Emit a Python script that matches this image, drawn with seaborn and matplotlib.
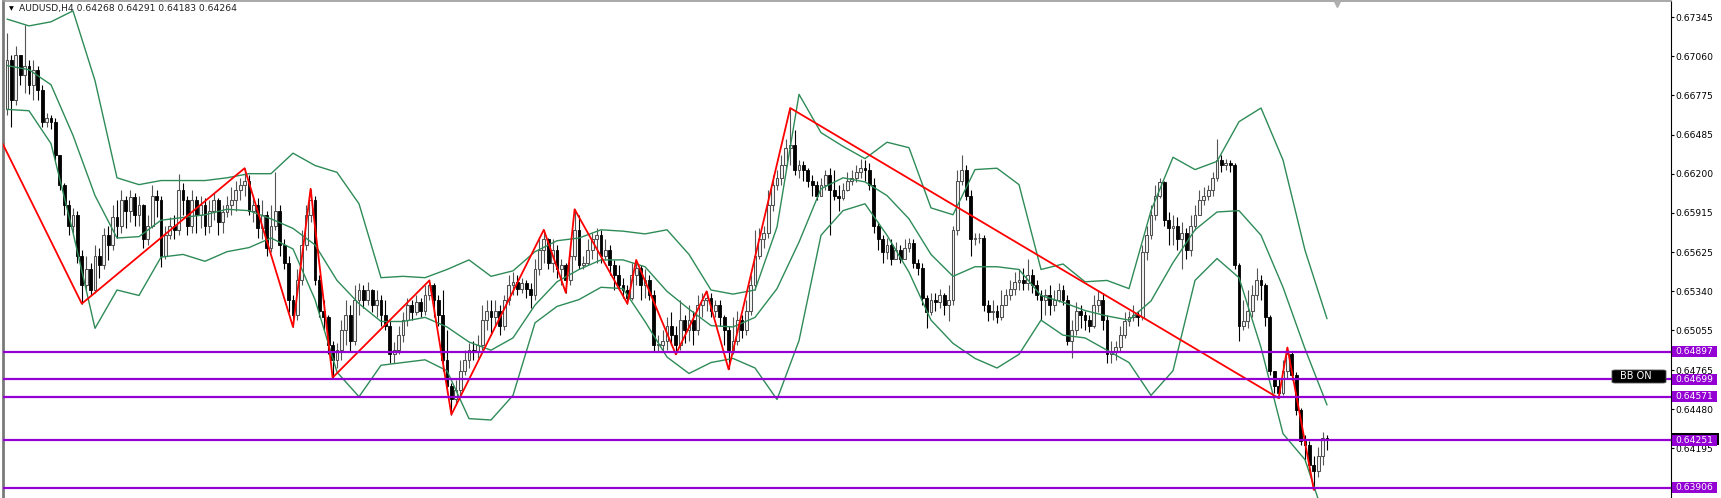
import numpy as np
import pandas as pd
import matplotlib
matplotlib.use("Agg")
import matplotlib.pyplot as plt
import matplotlib.patches as mpatches
import seaborn as sns

symbol = "AUDUSD,H4"
bar_info = "0.64268 0.64291 0.64183 0.64264"
last_price = 0.64264

# H4 candles, prices in pips (1e-4), open = previous close
first_open = 6667
close_pips = [
    6703, 6674, 6707, 6692, 6699, 6685, 6696, 6681, 6658, 6661,
    6658, 6634, 6612, 6597, 6582, 6590, 6560, 6539, 6550, 6535,
    6560, 6553, 6575, 6568, 6588, 6582, 6601, 6593, 6603, 6590,
    6597, 6572, 6582, 6604, 6601, 6560, 6575, 6582, 6579, 6608,
    6601, 6582, 6601, 6590, 6597, 6582, 6593, 6601, 6585, 6592,
    6597, 6601, 6608, 6612, 6615, 6593, 6597, 6580, 6590, 6566,
    6582, 6593, 6568, 6555, 6528, 6517, 6542, 6568, 6590, 6601,
    6542, 6520, 6515, 6495, 6484, 6491, 6506, 6517, 6498, 6528,
    6535, 6528, 6535, 6524, 6528, 6517, 6509, 6488, 6491, 6502,
    6513, 6524, 6519, 6526, 6520, 6531, 6539, 6528, 6517, 6484,
    6465, 6455, 6462, 6476, 6484, 6491, 6490, 6495, 6513, 6520,
    6515, 6520, 6509, 6528, 6539, 6541, 6536, 6540, 6536, 6531,
    6550, 6564, 6572, 6555, 6564, 6550, 6553, 6542, 6560, 6579,
    6553, 6555, 6564, 6572, 6575, 6560, 6564, 6553, 6546, 6539,
    6535, 6529, 6546, 6551, 6539, 6542, 6531, 6495, 6495, 6498,
    6509, 6502, 6495, 6513, 6506, 6513, 6506, 6524, 6528, 6529,
    6520, 6524, 6515, 6506, 6491, 6498, 6513, 6506, 6520, 6539,
    6560, 6572, 6577, 6597, 6612, 6617, 6626, 6639, 6641, 6623,
    6626, 6623, 6615, 6612, 6604, 6612, 6619, 6608, 6604, 6602,
    6608, 6615, 6617, 6621, 6624, 6623, 6612, 6582, 6572, 6563,
    6568, 6558, 6564, 6558, 6566, 6569, 6555, 6551, 6529, 6519,
    6528, 6526, 6531, 6524, 6528, 6579, 6615, 6623, 6604, 6572,
    6573, 6573, 6524, 6519, 6520, 6515, 6524, 6531, 6536, 6541,
    6542, 6540, 6546, 6539, 6531, 6528, 6531, 6524, 6528, 6535,
    6528, 6498, 6506, 6520, 6517, 6513, 6509, 6524, 6528, 6513,
    6488, 6490, 6493, 6502, 6512, 6515, 6517, 6515, 6563, 6575,
    6590, 6604, 6614, 6586, 6580, 6582, 6572, 6577, 6564, 6582,
    6590, 6601, 6604, 6608, 6617, 6630, 6626, 6628, 6626, 6553,
    6509, 6512, 6520, 6531, 6542, 6539, 6515, 6476, 6465, 6460,
    6476, 6488, 6473, 6447, 6425, 6422, 6407, 6403, 6414, 6426.8,
    6426.4,
]
high_pips = [
    6723, 6707, 6713, 6707, 6729, 6703, 6703, 6699, 6685, 6664,
    6663, 6661, 6634, 6613, 6601, 6595, 6593, 6564, 6560, 6555,
    6568, 6566, 6580, 6582, 6597, 6601, 6608, 6604, 6608, 6606,
    6604, 6598, 6590, 6612, 6608, 6604, 6582, 6588, 6590, 6620,
    6613, 6604, 6608, 6604, 6604, 6602, 6601, 6606, 6602, 6597,
    6604, 6610, 6615, 6617, 6624, 6619, 6604, 6602, 6601, 6593,
    6597, 6621, 6597, 6572, 6560, 6531, 6550, 6579, 6597, 6609,
    6604, 6546, 6528, 6517, 6498, 6496, 6513, 6528, 6524, 6539,
    6540, 6539, 6541, 6536, 6535, 6531, 6528, 6513, 6497, 6509,
    6519, 6529, 6528, 6531, 6529, 6539, 6542, 6540, 6531, 6535,
    6506, 6467, 6469, 6484, 6491, 6496, 6498, 6502, 6524, 6528,
    6528, 6528, 6524, 6531, 6546, 6548, 6546, 6544, 6542, 6540,
    6558, 6572, 6579, 6573, 6572, 6568, 6558, 6555, 6568, 6594,
    6590, 6560, 6572, 6577, 6580, 6579, 6572, 6568, 6557, 6553,
    6544, 6539, 6555, 6557, 6553, 6550, 6546, 6535, 6502, 6506,
    6515, 6519, 6509, 6528, 6517, 6524, 6520, 6531, 6533, 6534,
    6533, 6528, 6528, 6517, 6509, 6515, 6520, 6517, 6528, 6546,
    6579, 6580, 6582, 6608, 6619, 6623, 6634, 6645, 6668, 6652,
    6630, 6629, 6624, 6619, 6615, 6617, 6623, 6624, 6623, 6612,
    6613, 6621, 6623, 6626, 6631, 6630, 6628, 6617, 6585, 6575,
    6573, 6572, 6570, 6568, 6572, 6573, 6572, 6558, 6555, 6531,
    6533, 6533, 6536, 6533, 6539, 6582, 6623, 6634, 6626, 6608,
    6577, 6577, 6575, 6528, 6528, 6524, 6535, 6536, 6542, 6548,
    6550, 6551, 6558, 6550, 6542, 6535, 6536, 6539, 6535, 6540,
    6539, 6531, 6513, 6526, 6524, 6520, 6517, 6531, 6535, 6533,
    6517, 6498, 6498, 6509, 6519, 6520, 6524, 6520, 6568, 6582,
    6597, 6612, 6617, 6615, 6592, 6590, 6588, 6585, 6580, 6590,
    6597, 6608, 6610, 6612, 6621, 6645, 6634, 6631, 6630, 6628,
    6555, 6528, 6535, 6539, 6551, 6546, 6540, 6517, 6476, 6471,
    6484, 6493, 6490, 6475, 6449, 6429, 6425, 6414, 6420, 6431,
    6429.1,
]
low_pips = [
    6663, 6654, 6670, 6685, 6679, 6678, 6674, 6674, 6654, 6654,
    6653, 6630, 6608, 6590, 6575, 6577, 6555, 6525, 6535, 6531,
    6533, 6544, 6550, 6557, 6564, 6573, 6577, 6580, 6585, 6582,
    6582, 6566, 6568, 6580, 6588, 6552, 6558, 6572, 6572, 6575,
    6590, 6575, 6577, 6577, 6580, 6575, 6577, 6586, 6575, 6577,
    6588, 6590, 6593, 6601, 6604, 6590, 6585, 6573, 6572, 6560,
    6563, 6579, 6560, 6550, 6519, 6508, 6513, 6539, 6564, 6585,
    6539, 6515, 6506, 6488, 6471, 6478, 6484, 6495, 6490, 6495,
    6517, 6522, 6524, 6519, 6515, 6509, 6506, 6482, 6482, 6488,
    6497, 6509, 6513, 6517, 6515, 6517, 6528, 6515, 6509, 6476,
    6460, 6444, 6451, 6458, 6473, 6478, 6484, 6485, 6491, 6506,
    6502, 6509, 6502, 6506, 6524, 6531, 6531, 6533, 6529, 6522,
    6528, 6546, 6555, 6550, 6548, 6544, 6539, 6533, 6539, 6557,
    6550, 6550, 6553, 6558, 6555, 6555, 6557, 6546, 6535, 6535,
    6529, 6525, 6528, 6539, 6528, 6529, 6528, 6490, 6490, 6490,
    6491, 6495, 6488, 6491, 6496, 6498, 6495, 6502, 6515, 6520,
    6515, 6515, 6509, 6495, 6477, 6488, 6495, 6500, 6502, 6517,
    6535, 6558, 6566, 6573, 6593, 6608, 6612, 6623, 6626, 6619,
    6617, 6615, 6610, 6604, 6601, 6604, 6608, 6575, 6601, 6593,
    6601, 6607, 6612, 6614, 6617, 6615, 6608, 6577, 6564, 6555,
    6558, 6553, 6558, 6555, 6560, 6563, 6551, 6546, 6524, 6507,
    6517, 6520, 6522, 6517, 6512, 6524, 6575, 6612, 6601, 6560,
    6568, 6569, 6520, 6512, 6513, 6511, 6513, 6524, 6528, 6531,
    6535, 6535, 6535, 6533, 6528, 6513, 6517, 6517, 6520, 6526,
    6524, 6495, 6485, 6502, 6507, 6506, 6504, 6507, 6519, 6506,
    6482, 6482, 6484, 6490, 6500, 6509, 6512, 6509, 6513, 6557,
    6572, 6586, 6602, 6582, 6568, 6568, 6564, 6550, 6558, 6560,
    6579, 6590, 6597, 6601, 6604, 6615, 6621, 6623, 6621, 6550,
    6498, 6506, 6507, 6515, 6528, 6528, 6509, 6473, 6460, 6456,
    6458, 6471, 6469, 6444, 6422, 6411, 6403, 6389, 6398, 6407,
    6418.3,
]

# Bollinger bands, every 5th bar
band_bars = list(range(0, 301, 5))
bb_upper = [
    6733, 6728, 6731, 6739, 6688, 6617, 6612, 6615, 6615, 6615,
    6617, 6620, 6620, 6635, 6626, 6621, 6598, 6544, 6545, 6544,
    6550, 6557, 6545, 6549, 6563, 6571, 6573, 6579, 6578, 6576,
    6579, 6561, 6535, 6532, 6535, 6581, 6678, 6650, 6640, 6631,
    6643, 6639, 6595, 6590, 6623, 6624, 6612, 6550, 6554, 6541,
    6542, 6536, 6593, 6632, 6623, 6629, 6658, 6668, 6630, 6564,
    6514,
]
bb_mid = [
    6699, 6696, 6685, 6648, 6604, 6573, 6574, 6586, 6588, 6590,
    6594, 6593, 6587, 6580, 6568, 6542, 6525, 6512, 6512, 6515,
    6508, 6497, 6491, 6500, 6524, 6541, 6550, 6557, 6557, 6552,
    6534, 6521, 6509, 6508, 6515, 6536, 6570, 6609, 6617, 6614,
    6604, 6587, 6561, 6545, 6552, 6552, 6550, 6531, 6526, 6520,
    6516, 6513, 6527, 6555, 6579, 6592, 6593, 6575, 6537, 6492,
    6451,
]
bb_lower = [
    6667, 6666, 6642, 6577, 6507, 6535, 6531, 6559, 6561, 6556,
    6563, 6566, 6573, 6565, 6528, 6475, 6457, 6480, 6482, 6484,
    6476, 6441, 6440, 6458, 6511, 6523, 6528, 6537, 6536, 6512,
    6486, 6474, 6482, 6485, 6478, 6455, 6498, 6575, 6593, 6598,
    6575, 6548, 6513, 6496, 6485, 6478, 6488, 6513, 6502, 6500,
    6491, 6482, 6458, 6476, 6542, 6558, 6544, 6493, 6430, 6411,
    6363,
]

# ZigZag pivots
zz_bars = [-1, 17, 54, 65, 69, 74, 96, 101, 122, 127, 129, 141, 143, 152, 159, 164, 178, 289, 291, 297]
zz_pips = [6642, 6525, 6624, 6508, 6609, 6471, 6542, 6444, 6579, 6533, 6594, 6525, 6557, 6488, 6534, 6477, 6668, 6456, 6493, 6389]

levels = [0.64897, 0.64699, 0.64571, 0.64251, 0.63906]
price_ticks = [0.67345, 0.67060, 0.66775, 0.66485, 0.66200, 0.65915,
               0.65625, 0.65340, 0.65055, 0.64765, 0.64480, 0.64195]

sns.set_style("white")
plt.rcParams["font.family"] = ["DejaVu Sans"]
FS = 6.6

close = np.array(close_pips) / 10000
high = np.array(high_pips) / 10000
low = np.array(low_pips) / 10000
opn = np.concatenate([[first_open / 10000], close[:-1]])
high = np.maximum(high, np.maximum(opn, close))
low = np.minimum(low, np.minimum(opn, close))
bars = np.arange(len(close))
up = close >= opn

fig = plt.figure(figsize=(17.21, 4.98), dpi=100)
ax = fig.add_axes([3 / 1721, 0, 1668 / 1721, 497 / 498])
ax.set_xlim(-0.91, 378.18)
ax.set_ylim(0.63830, 0.67462)

# candles
body_lo = np.minimum(opn, close)
body_h = np.maximum(np.abs(close - opn), 0.00002)
ax.vlines(bars[up], low[up], high[up], color="#555555", lw=0.8, zorder=2)
ax.vlines(bars[~up], low[~up], high[~up], color="black", lw=0.8, zorder=2)
ax.bar(bars[up], body_h[up], bottom=body_lo[up], width=0.62, color="#f4f4f4",
       edgecolor="#505050", linewidth=0.75, zorder=2.1)
ax.bar(bars[~up], body_h[~up], bottom=body_lo[~up], width=0.62, color="black",
       edgecolor="black", linewidth=0.6, zorder=2.1)

# bollinger bands
bands = pd.concat([
    pd.DataFrame({"bar": band_bars, "price": np.array(v) / 10000, "band": k})
    for k, v in [("upper", bb_upper), ("middle", bb_mid), ("lower", bb_lower)]
])
sns.lineplot(data=bands, x="bar", y="price", units="band", estimator=None, sort=False,
             color="#2e8b57", linewidth=1.0, ax=ax, zorder=3)

# zigzag
zz = pd.DataFrame({"bar": zz_bars, "price": np.array(zz_pips) / 10000})
sns.lineplot(data=zz, x="bar", y="price", estimator=None, sort=False,
             color="red", linewidth=1.3, ax=ax, zorder=4)

# horizontal levels
for lv in levels:
    ax.axhline(lv, color="#9400d3", lw=1.6, zorder=4.5)

ax.set_xlabel("")
ax.set_ylabel("")
ax.set_xticks([])
ax.yaxis.tick_right()
ax.set_yticks(price_ticks)
ax.set_yticklabels([f"{t:.5f}" for t in price_ticks])
ax.tick_params(axis="y", right=True, left=False, labelright=True, labelleft=False,
               direction="out", length=2.2, width=0.8, pad=1.0, labelsize=FS, colors="black")

ax.spines["bottom"].set_visible(False)
ax.spines["top"].set_color("#9a9a9a")
ax.spines["top"].set_linewidth(1.2)
ax.spines["left"].set_color("#7a7a7a")
ax.spines["left"].set_linewidth(2.0)
ax.spines["right"].set_color("black")
ax.spines["right"].set_linewidth(0.8)

# price labels on the scale
px = 1.0 / 13684
ytr = ax.get_yaxis_transform()
box_x0 = 1 + 1 / 1668
ax.add_patch(mpatches.Rectangle((box_x0, last_price - 6 * px), 47 / 1668, 12 * px, transform=ytr,
                                facecolor="black", edgecolor="none", clip_on=False, zorder=6))
for lv in levels:
    ax.add_patch(mpatches.Rectangle((box_x0, lv - 5.5 * px), 45 / 1668, 11 * px, transform=ytr,
                                    facecolor="#9400d3", edgecolor="none", clip_on=False, zorder=7))
    ax.text(1 + 4 / 1668, lv, f"{lv:.5f}", transform=ytr, ha="left", va="center",
            fontsize=FS, color="white", zorder=8, clip_on=False)

# header
ax.text(6 / 1668, (498 - 9) / 497, "\u25bc", transform=ax.transAxes, ha="left", va="center",
        fontsize=4.5, color="black", zorder=9)
ax.text(16 / 1668, (498 - 9) / 497, f"{symbol} {bar_info}", transform=ax.transAxes,
        ha="left", va="center", fontsize=FS, color="#202020", zorder=9)

# chart shift marker
ax.plot([(1337 - 3) / 1668], [0.994], marker="v", color="#b0b0b0", ms=5,
        transform=ax.transAxes, clip_on=False, zorder=9)

# BB ON button
ax.add_patch(mpatches.FancyBboxPatch(((1612 - 3) / 1668, (498 - 383) / 497), 54 / 1668, 13 / 497,
                                     boxstyle="round,pad=0,rounding_size=0.002",
                                     transform=ax.transAxes, facecolor="black",
                                     edgecolor="#555555", lw=0.6, zorder=9))
ax.text((1620 - 3) / 1668, (498 - 376) / 497, "BB ON", transform=ax.transAxes,
        ha="left", va="center", fontsize=FS + 0.4, color="white", zorder=10)

fig.savefig("out.png", dpi=100)
